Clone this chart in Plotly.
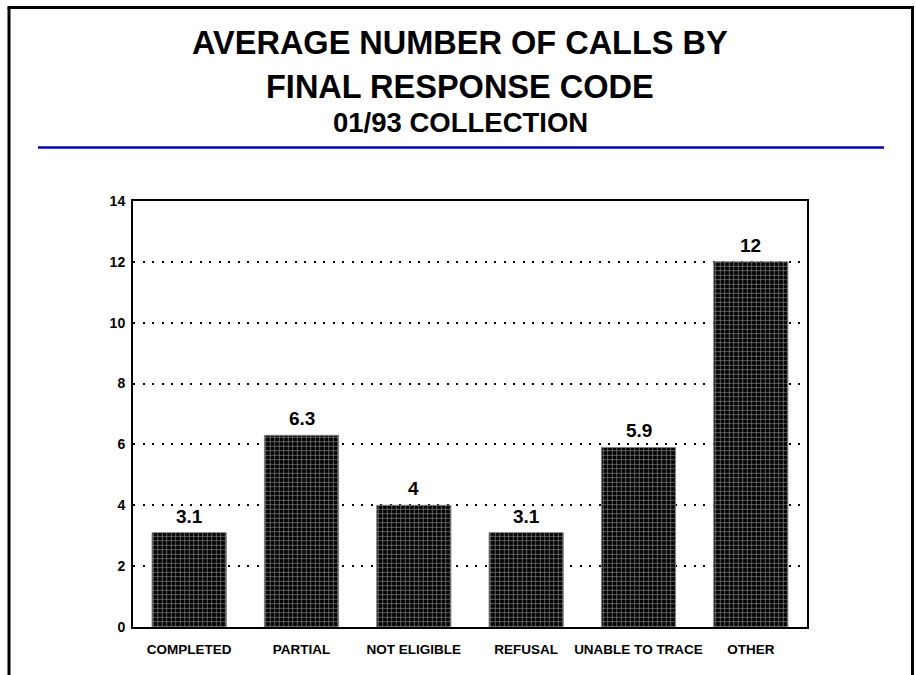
import plotly.graph_objects as go

categories = ["COMPLETED", "PARTIAL", "NOT ELIGIBLE", "REFUSAL", "UNABLE TO TRACE", "OTHER"]
values = [3.1, 6.3, 4, 3.1, 5.9, 12]
value_labels = ["3.1", "6.3", "4", "3.1", "5.9", "12"]
y_ticks = [0, 2, 4, 6, 8, 10, 12, 14]
title_lines = ["AVERAGE NUMBER OF CALLS BY", "FINAL RESPONSE CODE", "01/93 COLLECTION"]

W, H = 916, 675
OFF = 0  # page body margin removed via post_script
# plot area in screen pixels: x 133..807, y 201..627
L = 133 - OFF
T = 201 - OFF
R = W - (807 - OFF)
B = H - (627 - OFF)
PW, PH = W - L - R, H - T - B


def px_x(px):
    return (px - OFF - L) / PW


def px_y(py):
    return (H - B - (py - OFF)) / PH


FONT = "Liberation Sans"

fig = go.Figure()
fig.add_trace(go.Bar(
    x=categories,
    y=values,
    marker=dict(
        color="black",
        line=dict(color="#808080", width=1),
        pattern=dict(shape="+", fgcolor="white", bgcolor="black", size=4.5, solidity=0.3),
    ),
    width=0.66,
    hoverinfo="skip",
))

annotations = []
for c, v, t in zip(categories, values, value_labels):
    annotations.append(dict(
        x=c, y=v, text="<b>%s</b>" % t, showarrow=False, yanchor="bottom",
        yshift=4, font=dict(family=FONT, size=19, color="black"),
    ))

title_y = [43, 87, 122]
title_size = [32.5, 32.5, 27.5]
for txt, yy, sz in zip(title_lines, title_y, title_size):
    annotations.append(dict(
        x=px_x(460), y=px_y(yy), xref="paper", yref="paper", text="<b>%s</b>" % txt,
        showarrow=False, xanchor="center", yanchor="middle",
        font=dict(family=FONT, size=sz, color="black"),
    ))

shapes = [
    # outer frame
    dict(type="line", xref="paper", yref="paper", x0=px_x(9), x1=px_x(9), y0=px_y(7.5), y1=px_y(700),
         line=dict(color="black", width=3)),
    dict(type="line", xref="paper", yref="paper", x0=px_x(912.5), x1=px_x(912.5), y0=px_y(7.5), y1=px_y(700),
         line=dict(color="black", width=3)),
    dict(type="line", xref="paper", yref="paper", x0=px_x(7.5), x1=px_x(914), y0=px_y(7.5), y1=px_y(7.5),
         line=dict(color="black", width=3)),
    # blue rule under the title
    dict(type="line", xref="paper", yref="paper", x0=px_x(38), x1=px_x(884), y0=px_y(147.5), y1=px_y(147.5),
         line=dict(color="#0000A8", width=2.5)),
]

fig.update_layout(
    width=W, height=H,
    margin=dict(l=L, r=R, t=T, b=B, pad=0),
    paper_bgcolor="white", plot_bgcolor="white",
    showlegend=False,
    bargap=0.34,
    annotations=annotations,
    shapes=shapes,
    font=dict(family=FONT, color="black"),
)
fig.update_xaxes(
    showline=True, linecolor="black", linewidth=2, mirror=True,
    showgrid=False, ticks="outside", ticklen=9, tickcolor="rgba(0,0,0,0)",
    tickfont=dict(family=FONT, size=13.5, color="black"),
    tickprefix="<b>", ticksuffix="</b>",
)
fig.update_yaxes(
    range=[0, 14], tickvals=y_ticks, ticktext=["<b>%d</b>" % v for v in y_ticks],
    showline=True, linecolor="black", linewidth=2, mirror=True,
    showgrid=True, gridcolor="black", gridwidth=2, griddash="2px,7.5px",
    zeroline=False, ticks="outside", ticklen=3, tickcolor="rgba(0,0,0,0)",
    tickfont=dict(family=FONT, size=14, color="black"),
)

fig.write_html(
    "out.html",
    config={"displayModeBar": False, "staticPlot": True},
    post_script="document.body.style.margin='0';document.body.style.overflow='hidden';",
)
